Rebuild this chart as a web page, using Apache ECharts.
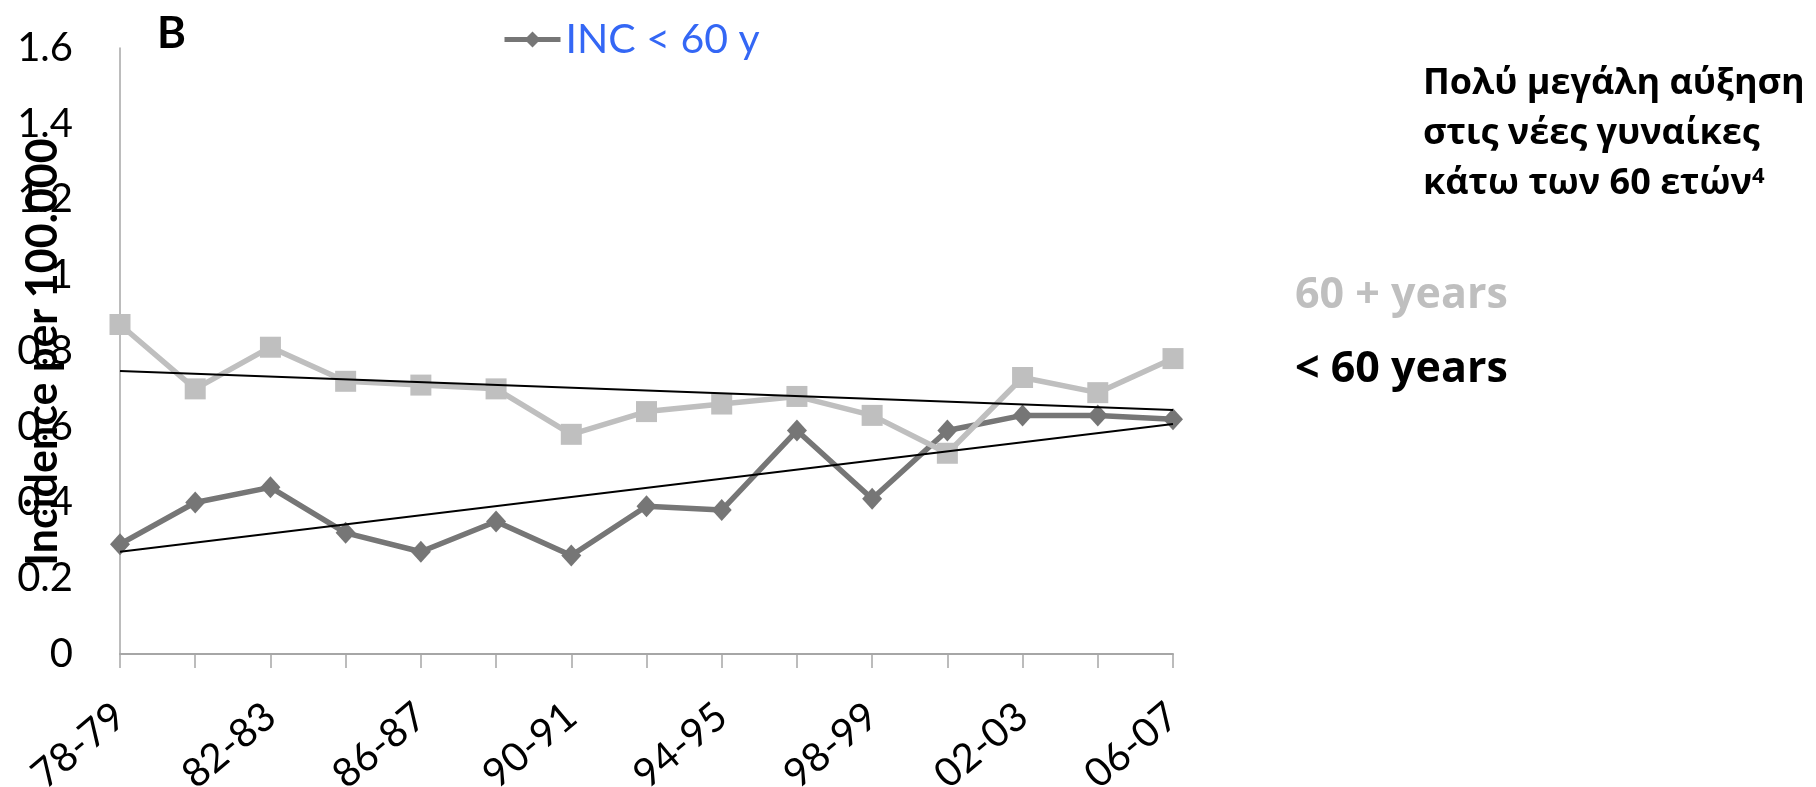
<!DOCTYPE html>
<html>
<head>
<meta charset="utf-8">
<script src="https://cdn.jsdelivr.net/npm/echarts@6/dist/echarts.min.js"></script>
<style>
html,body{margin:0;padding:0;background:#fff;overflow:hidden;}
#c{width:1816px;height:787px;}
</style>
</head>
<body>
<div id="c"></div>
<script>
const categories = ['78-79','80-81','82-83','84-85','86-87','88-89','90-91','92-93','94-95','96-97','98-99','00-01','02-03','04-05','06-07'];
const under60 = [0.29,0.40,0.44,0.32,0.27,0.35,0.26,0.39,0.38,0.59,0.41,0.59,0.63,0.63,0.62];
const over60 = [0.87,0.70,0.81,0.72,0.71,0.70,0.58,0.64,0.66,0.68,0.63,0.53,0.73,0.69,0.78];
const trendUnder60 = [0.27,null,null,null,null,null,null,null,null,null,null,null,null,null,0.607];
const trendOver60 = [0.747,null,null,null,null,null,null,null,null,null,null,null,null,null,0.644];
const yTicks = {min:0, max:1.6, interval:0.2};
const legendName = 'INC < 60 y';
const axisTitle = 'Incidence per 100.000';
const noteLines = ['Πολύ μεγάλη αύξηση','στις νέες γυναίκες','κάτω των 60 ετών'];
const noteSup = '4';
const sideLabels = ['60 + years','< 60 years'];

const FONT = 'Lato, "Open Sans", sans-serif';
const GFONT = '"Open Sans", "Noto Sans", sans-serif';
const chart = echarts.init(document.getElementById('c'));
chart.setOption({
  animation:false,
  backgroundColor:'#fff',
  grid:{left:120,right:643,top:48,bottom:133,containLabel:false,outerBoundsMode:'none'},
  legend:{
    data:[legendName],
    left:497, top:14,
    itemWidth:56, itemHeight:20,
    lineStyle:{width:5, color:'#767676'},
    itemStyle:{color:'#767676'},
    textStyle:{color:'#3467F5', fontSize:41, fontFamily:FONT}
  },
  xAxis:{
    type:'category', data:categories, boundaryGap:false,
    axisLine:{lineStyle:{color:'#A6A6A6', width:2}},
    axisTick:{show:true, interval:0, length:14, lineStyle:{color:'#A6A6A6', width:1.5}},
    axisLabel:{interval:1, rotate:40, margin:57, fontSize:40, color:'#000', fontFamily:FONT, hideOverlap:false}
  },
  yAxis:{
    type:'value', min:yTicks.min, max:yTicks.max, interval:yTicks.interval,
    splitLine:{show:false},
    axisLine:{show:true, lineStyle:{color:'#A6A6A6', width:1.5}},
    axisTick:{show:false},
    axisLabel:{fontSize:40, color:'#000', margin:47, fontFamily:FONT}
  },
  series:[
    {name:legendName, type:'line', data:under60, symbol:'diamond', symbolSize:[20,22],
     lineStyle:{color:'#767676', width:5.5}, itemStyle:{color:'#767676'}, z:2},
    {name:sideLabels[0], type:'line', data:over60, symbol:'rect', symbolSize:21,
     lineStyle:{color:'#BFBFBF', width:5.5}, itemStyle:{color:'#BFBFBF'}, z:3},
    {name:'trend < 60', type:'line', data:trendUnder60, connectNulls:true, symbol:'none',
     lineStyle:{color:'#000', width:2}, z:4, silent:true},
    {name:'trend 60+', type:'line', data:trendOver60, connectNulls:true, symbol:'none',
     lineStyle:{color:'#000', width:2}, z:4, silent:true}
  ],
  graphic:[
    {type:'text', left:157, top:12, style:{text:'B', font:'bold 44px '+FONT, fill:'#000'}},
    {type:'text', x:43, y:352, rotation:Math.PI/2,
     style:{text:axisTitle, font:'bold 43px '+FONT, fill:'#000', textAlign:'center', textVerticalAlign:'middle'}},
    {type:'text', left:1295, top:274, style:{text:sideLabels[0], font:'bold 43px '+GFONT, fill:'#BFBFBF'}},
    {type:'text', left:1295, top:348, style:{text:sideLabels[1], font:'bold 43px '+GFONT, fill:'#000'}},
    {type:'text', left:1423, top:66, style:{text:noteLines[0], font:'bold 36px '+GFONT, fill:'#000'}},
    {type:'text', left:1423, top:116, style:{text:noteLines[1], font:'bold 36px '+GFONT, fill:'#000'}},
    {type:'text', left:1423, top:166, style:{
      text:'{a|'+noteLines[2]+'}{s|'+noteSup+'}',
      rich:{a:{font:'bold 36px '+GFONT, color:'#000'},
            s:{font:'bold 22px '+GFONT, color:'#000', verticalAlign:'top'}}
    }}
  ]
});
</script>
</body>
</html>
